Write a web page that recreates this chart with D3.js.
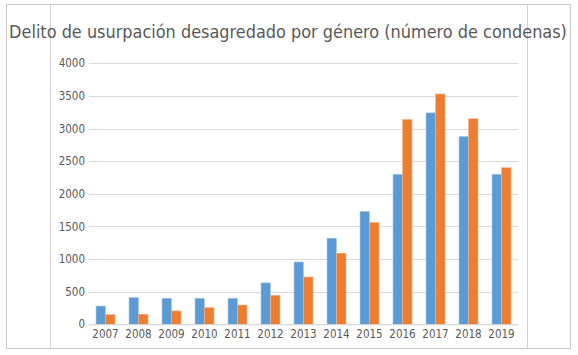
<!DOCTYPE html>
<html><head><meta charset="utf-8">
<script src="https://cdn.jsdelivr.net/npm/d3@7"></script>
<style>body{margin:0;background:#fff}svg{display:block}text{font-stretch:condensed}</style>
</head><body>
<svg id="c" width="578" height="355"></svg>
<script>
const years = ["2007","2008","2009","2010","2011","2012","2013","2014","2015","2016","2017","2018","2019"];
const serieA = [280,410,400,400,400,635,955,1320,1730,2300,3240,2880,2300];
const serieB = [150,155,205,255,295,445,725,1090,1560,3140,3530,3150,2400];
const yTicks = [0,500,1000,1500,2000,2500,3000,3500,4000];
const title = "Delito de usurpación desagredado por género (número de condenas)";

const svg = d3.select("#c");
const font = "'DejaVu Sans Condensed', 'DejaVu Sans'";
// frame
svg.append("rect").attr("x",6.5).attr("y",4.5).attr("width",564).attr("height",344)
  .attr("fill","#fff").attr("stroke","#c8c8c8");
svg.append("line").attr("x1",50.5).attr("x2",50.5).attr("y1",4.5).attr("y2",348.5).attr("stroke","#d0d0d0");
svg.append("line").attr("x1",527.5).attr("x2",527.5).attr("y1",4.5).attr("y2",348.5).attr("stroke","#d0d0d0");

const m = {l:89, r:518, t:63.3, b:324.3};
const x = d3.scaleBand().domain(years).range([m.l,m.r]).paddingInner(0.424).paddingOuter(0.212);
const xs = d3.scaleBand().domain(["A","B"]).range([0,x.bandwidth()]);
const y = d3.scaleLinear().domain([0,4000]).range([m.b,m.t]);

svg.append("g").selectAll("line").data(yTicks).join("line")
  .attr("x1",m.l).attr("x2",m.r)
  .attr("y1",d=>Math.round(y(d))+0.5).attr("y2",d=>Math.round(y(d))+0.5)
  .attr("stroke","#d9d9d9");

const yAxis = svg.append("g").attr("transform",`translate(${m.l},0)`)
  .call(d3.axisLeft(y).tickValues(yTicks).tickFormat(d3.format("d")).tickSize(0).tickPadding(4));
yAxis.select(".domain").remove();
yAxis.selectAll("text").attr("font-family",font).attr("font-size",11.5).attr("fill","#595959");

const g = svg.append("g");
years.forEach((yr,i)=>{
  g.append("rect").attr("x",x(yr)+xs("A")).attr("width",xs.bandwidth())
   .attr("y",y(serieA[i])).attr("height",y(0)-y(serieA[i]))
   .attr("fill","#5B9BD5").attr("stroke","#a9c9e8").attr("stroke-width",0.6);
  g.append("rect").attr("x",x(yr)+xs("B")).attr("width",xs.bandwidth())
   .attr("y",y(serieB[i])).attr("height",y(0)-y(serieB[i]))
   .attr("fill","#ED7D31").attr("stroke","#f5b48a").attr("stroke-width",0.6);
});

const xAxis = svg.append("g").attr("transform",`translate(0,${m.b})`)
  .call(d3.axisBottom(x).tickSize(0).tickPadding(6));
xAxis.select(".domain").attr("stroke","#d9d9d9");
xAxis.selectAll("text").attr("font-family",font).attr("font-size",11.5).attr("fill","#595959");

const t = svg.append("text").attr("x",288).attr("y",38).attr("text-anchor","middle")
  .attr("font-family",font).attr("font-size",18).attr("fill","#595959").text(title);
const w = t.node().getComputedTextLength();
if (w > 560) t.attr("font-size", 18*558/w);
</script>
</body></html>
